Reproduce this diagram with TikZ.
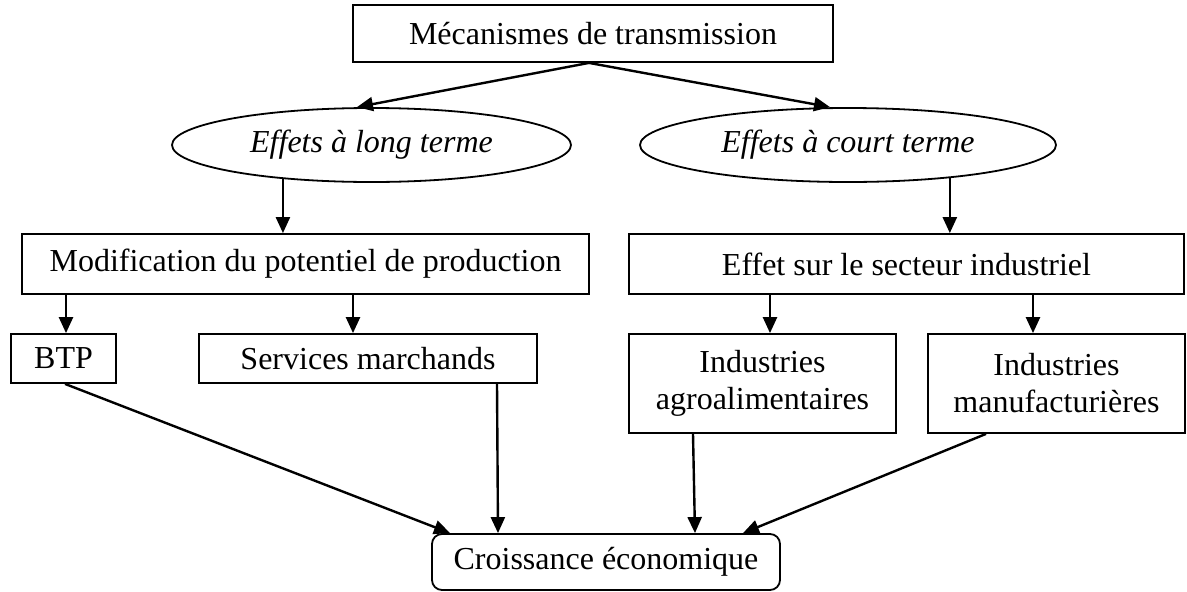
\documentclass[tikz,border=0pt]{standalone}
\usepackage{fontspec}
\setmainfont{Liberation Serif}
\usetikzlibrary{shapes.geometric,arrows.meta}
\begin{document}
\begin{tikzpicture}[x=1pt,y=-1pt,
 box/.style={draw,line width=1.8pt,inner sep=0pt,align=center,font=\fontsize{32}{37}\selectfont},
 oval/.style={ellipse,draw,line width=1.8pt,inner sep=0pt,font=\fontsize{32}{37}\selectfont\itshape},
 arr/.style={line width=2.4pt,-{Triangle[length=16pt,width=14pt]}}]
\useasboundingbox (0,0) rectangle (1187,592);
\node[box,minimum width=480pt,minimum height=57pt] (top) at (593,33.5) {Mécanismes de transmission};
\node[oval,minimum width=399pt,minimum height=74pt] (el) at (371.5,145) {Effets à long terme};
\node[oval,minimum width=416pt,minimum height=74pt] (er) at (848,145) {Effets à court terme};
\node[box,minimum width=567pt,minimum height=60pt] (mod) at (305.5,264) {Modification du potentiel de production};
\node[box,minimum width=555pt,minimum height=60pt] (eff) at (906.5,264) {Effet sur le secteur industriel};
\node[box,minimum width=105pt,minimum height=49pt] (btp) at (63.5,358.5) {BTP};
\node[box,minimum width=338pt,minimum height=49pt] (serv) at (368,358.5) {Services marchands};
\node[box,minimum width=267pt,minimum height=99pt] (agro) at (762.5,383.5) {Industries\\agroalimentaires};
\node[box,minimum width=257pt,minimum height=99pt] (manu) at (1056.5,383.5) {Industries\\manufacturières};
\node[box,rounded corners=10pt,minimum width=348pt,minimum height=56pt] (croi) at (606,562) {Croissance économique};
\draw[arr] ([xshift=-4pt]top.south) -- ([xshift=-14.5pt]el.north);
\draw[arr] ([xshift=-4pt]top.south) -- ([xshift=-18pt]er.north);
\draw[arr] (el.201.3) -- (el.201.3 |- mod.north);
\draw[arr] (er.342.3) -- (er.342.3 |- eff.north);
\draw[arr] ([xshift=2.5pt]btp.north |- mod.south) -- ([xshift=2.5pt]btp.north);
\draw[arr] ([xshift=-15pt]serv.north |- mod.south) -- ([xshift=-15pt]serv.north);
\draw[arr] ([xshift=7.5pt]agro.north |- eff.south) -- ([xshift=7.5pt]agro.north);
\draw[arr] ([xshift=-23.5pt]manu.north |- eff.south) -- ([xshift=-23.5pt]manu.north);
\draw[arr] ([xshift=1.5pt]btp.south) -- ([xshift=-156pt]croi.north);
\draw[arr] ([xshift=129pt]serv.south) -- ([xshift=-108pt]croi.north);
\draw[arr] ([xshift=-69.5pt]agro.south) -- ([xshift=89pt]croi.north);
\draw[arr] ([xshift=-70.5pt]manu.south) -- ([xshift=137pt]croi.north);
\end{tikzpicture}
\end{document}
